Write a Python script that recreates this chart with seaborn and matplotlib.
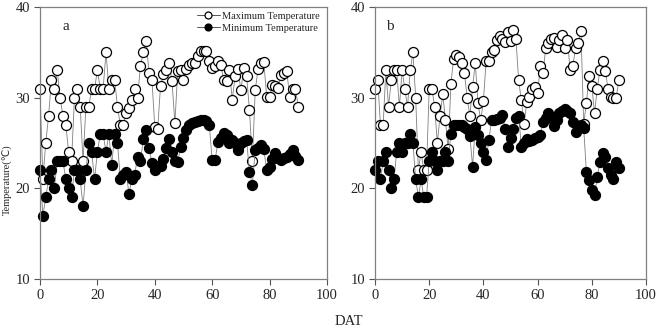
import numpy as np
import pandas as pd
import seaborn as sns
import matplotlib.pyplot as plt
from matplotlib.lines import Line2D

# days after transplanting
dat = list(range(0, 91))

# panel a
tmax_a = [31, 21, 25, 28, 32, 31, 33, 30, 28, 27, 24, 23, 30, 31, 29, 23, 29, 29, 31, 31,
          33, 31, 31, 35, 31, 32, 32, 29, 27, 27, 28.3, 28.9, 29.8, 31, 30, 33.5, 35, 36.3, 32.7, 32,
          26.8, 26.5, 31.3, 32.6, 33, 33.8, 31.8, 27.2, 32.9, 33, 32, 33.2, 33.6, 33.8, 33.8, 34.6, 35.2, 35.2, 35.1, 34,
          33.3, 33.5, 34, 33.6, 32, 31.8, 33, 29.8, 32.4, 33.2, 30.8, 33.3, 32.4, 28.6, 23, 30.8, 33.2, 33.8, 33.9, 30.1,
          30.1, 31.4, 31.3, 31.1, 32.5, 32.7, 32.9, 30.1, 31, 31, 29]
tmin_a = [22, 17, 19, 21, 22, 20, 23, 23, 23, 21, 20, 19, 22, 22, 21, 18, 22, 25, 24, 21,
          24, 26, 26, 24, 26, 22.6, 26, 25, 21, 21.5, 21.8, 19.4, 21, 21.5, 23.5, 23, 25.4, 26.4, 24.4, 22.8,
          22, 22.5, 22.5, 23.2, 24.4, 25.4, 24, 23, 22.9, 24.6, 25.5, 26.4, 27, 27.2, 27.3, 27.4, 27.5, 27.5, 27.4, 27,
          23.1, 23.1, 25.1, 25.6, 26.1, 25.9, 25, 25.3, 25, 24.2, 25, 25.2, 25.3, 21.8, 20.4, 24.2, 24.5, 24.8, 24.3, 22,
          22.4, 23.2, 23.9, 23.3, 23.1, 23.3, 23.5, 23.8, 24.2, 23.6, 23.1]

# panel b
tmax_b = [31, 32, 27, 27, 33, 29, 32, 33, 33, 29, 33, 31, 29, 33, 35, 30, 22, 24, 22, 22,
          31, 31, 29, 25, 28, 30.4, 27.5, 24.3, 31.5, 34.3, 34.7, 34.5, 33.8, 32.7, 30, 28, 31.2, 33.8, 29.4, 27.5,
          29.6, 34.1, 34.1, 35, 35.3, 36.4, 36.8, 36.5, 36.1, 37.3, 36.2, 37.5, 36.5, 31.9, 29.7, 27.1, 29.5, 30.1, 31, 31.2,
          30.5, 33.5, 32.7, 35.5, 36, 36.5, 36.6, 35.6, 36.4, 36.9, 35.5, 36.4, 33, 33.5, 35.5, 36, 37.4, 27.1, 29.4, 32.4,
          31.3, 28.3, 31, 33, 34, 32.9, 31, 30.1, 30, 30, 32]
tmin_b = [22, 23, 21, 23, 24, 22, 20, 21, 24, 25, 24, 25, 25, 26, 25, 21, 19, 21, 19, 19,
          23, 24, 23, 22, 23, 23, 24, 23, 26, 27, 27, 27, 27, 26.8, 26.5, 25.8, 22.4, 26.8, 25.9, 25,
          24, 23.1, 25.3, 27.5, 27.5, 27.6, 27.8, 28.1, 26.6, 24.6, 25.5, 26.5, 27.8, 28, 24.6, 25, 25.4, 25.2, 25.3, 25.5,
          25.7, 25.9, 27.3, 27.8, 28.3, 27.8, 26.9, 27.5, 28.3, 28.5, 28.8, 28.5, 28.3, 27.3, 26.2, 26.9, 27, 26.7, 21.8, 20.9,
          19.8, 19.3, 21.2, 22.9, 23.9, 23.5, 22.2, 21.5, 21, 22.9, 22.2]

sns.set_style('ticks')
plt.rcParams['font.family'] = ['Liberation Serif', 'DejaVu Serif']

fig = plt.figure(figsize=(6.6, 3.3), dpi=100)
ax_a = fig.add_axes([0.0606, 0.1545, 0.4348, 0.8242])
ax_b = fig.add_axes([0.5682, 0.1545, 0.4106, 0.8242])

line_kw = dict(color='#7f7f7f', linewidth=0.6, marker='o', markersize=7.2,
               markeredgecolor='black', markeredgewidth=0.9, clip_on=False)

for ax, tmax, tmin, tag in [(ax_a, tmax_a, tmin_a, 'a'), (ax_b, tmax_b, tmin_b, 'b')]:
    df = pd.DataFrame({'DAT': dat, 'Tmax': tmax, 'Tmin': tmin})
    sns.lineplot(data=df, x='DAT', y='Tmax', ax=ax, markerfacecolor='white', **line_kw)
    sns.lineplot(data=df, x='DAT', y='Tmin', ax=ax, markerfacecolor='black', **line_kw)
    ax.set_xlim(0, 100)
    ax.set_ylim(10, 40)
    ax.set_xticks([0, 20, 40, 60, 80, 100])
    ax.set_yticks([10, 20, 30, 40])
    ax.set_xlabel('')
    ax.set_ylabel('')
    ax.tick_params(direction='out', length=4, width=0.8, color='#555555',
                   labelsize=10.5, pad=3)
    for s in ax.spines.values():
        s.set_color('#808080')
        s.set_linewidth(0.9)
    ax.text(0.08 if tag == 'a' else 0.04, 0.915, tag, transform=ax.transAxes, fontsize=11)

handles = [Line2D([], [], color='#555555', linewidth=0.7, marker='o', markersize=5,
                  markerfacecolor='white', markeredgecolor='black', markeredgewidth=0.9),
           Line2D([], [], color='#555555', linewidth=0.7, marker='o', markersize=5,
                  markerfacecolor='black', markeredgecolor='black', markeredgewidth=0.9)]
ax_a.legend(handles, ['Maximum Temperature', 'Minimum Temperature'], loc='upper right',
            bbox_to_anchor=(1.0, 1.01), frameon=False, fontsize=7.5, handlelength=2.2,
            handletextpad=0.2, labelspacing=0.25, borderaxespad=0.3)

fig.text(0.012, 0.455, 'Temperature(\u2103)', rotation=90, ha='center', va='center',
         fontsize=7.5, family=['Liberation Serif', 'DejaVu Sans'])
fig.text(0.528, 0.025, 'DAT', ha='center', va='center', fontsize=10.5)

fig.savefig('out.png', dpi=100)
